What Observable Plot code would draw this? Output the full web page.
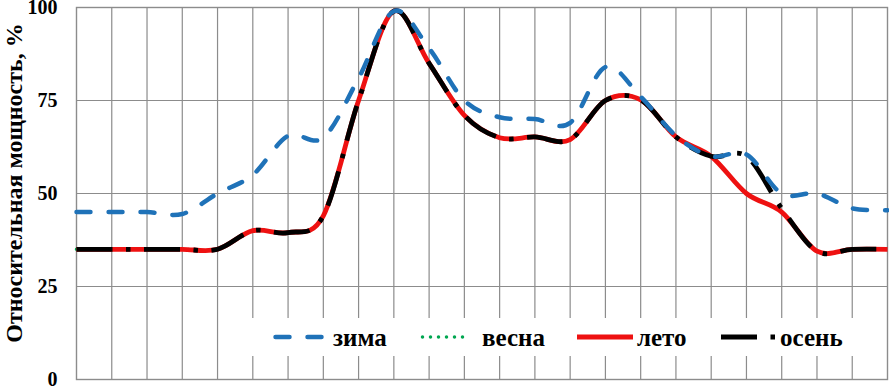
<!DOCTYPE html>
<html>
<head>
<meta charset="utf-8">
<script src="https://cdn.jsdelivr.net/npm/d3@7"></script>
<script src="https://cdn.jsdelivr.net/npm/@observablehq/plot@0.6"></script>
<style>
  html, body { margin: 0; padding: 0; background: #fff; }
  #chart { width: 889px; height: 387px; }
  #chart svg text { font-family: "Liberation Serif", "Times New Roman", serif !important; font-weight: bold; }
</style>
</head>
<body>
<div id="chart"></div>
<script>
// ---- data ----
const hours = [0, 1, 2, 3, 4, 5, 6, 7, 8, 9, 10, 11, 12, 13, 14, 15, 16, 17, 18, 19, 20, 21, 22, 23];
const yTicks = [0, 25, 50, 75, 100];
const seriesNames = ["зима", "весна", "лето", "осень"];
const winter = [45, 45, 45, 44.5, 50, 55, 65.5, 65, 81, 99, 89, 75, 70.5, 70, 69, 84, 76, 65.5, 60, 60.5, 50, 50, 46, 45.5];
const spring = [35, 35, 35, 35, 35, 40, 39.5, 44, 75, 99, 85, 71, 65, 65.2, 64.5, 75, 75.2, 65.2, 60, 50, 45, 34.5, 35, 35];
const summer = [35, 35, 35, 35, 35, 40, 39.5, 44, 75, 99, 85, 71, 65, 65.2, 64.5, 75, 75.2, 65.2, 60, 50, 45, 34.5, 35, 35];
const autumn = [35, 35, 35, 35, 35, 40, 39.5, 44, 75, 99, 85, 71, 65, 65.2, 64.5, 75, 75.2, 65.2, 60, 60, 46, 34.5, 35, 35];
const yLabel = "Относительная мощность, %";

const valuesBySeries = [winter, spring, summer, autumn];
const rows = [];
seriesNames.forEach((s, k) => hours.forEach((h, i) => rows.push({series: s, hour: h, value: valuesBySeries[k][i]})));

const styles = {
  "зима":  {stroke: "#1f72b8", strokeWidth: 4.5, strokeDasharray: "14 18", strokeLinecap: "round"},
  "весна": {stroke: "#00a650", strokeWidth: 3.5, strokeDasharray: "0 8", strokeLinecap: "round"},
  "лето":  {stroke: "#ee1111", strokeWidth: 4.8, strokeDasharray: null, strokeLinecap: "butt"},
  "осень": {stroke: "#000000", strokeWidth: 4.8, strokeDasharray: "36 13.5 4.5 13.5", strokeLinecap: "butt"}
};
const drawOrder = ["весна", "лето", "осень", "зима"];
const gridColor = "#8c8c8c";
const font = "Liberation Serif, Times New Roman, serif";

const lineMarks = drawOrder.map(s => Plot.line(rows.filter(r => r.series === s), {
  x: "hour", y: "value", curve: "cardinal", tension: 0,
  ...styles[s]
}));

const chart = Plot.plot({
  width: 889,
  height: 387,
  marginLeft: 76,
  marginRight: 2,
  marginTop: 7,
  marginBottom: 8,
  x: {domain: [hours[0], hours[hours.length - 1]], axis: null},
  y: {domain: [yTicks[0], yTicks[yTicks.length - 1]], axis: null},
  style: {fontFamily: font, background: "#fff", color: "#000", overflow: "visible"},
  marks: [
    Plot.gridX(hours.slice(1, -1), {stroke: gridColor, strokeOpacity: 1, strokeWidth: 1.2}),
    Plot.gridY(yTicks.slice(1, -1), {stroke: gridColor, strokeOpacity: 1, strokeWidth: 1.2}),
    Plot.frame({stroke: gridColor, strokeWidth: 1.4}),
    Plot.axisY(yTicks, {tickSize: 0, tickPadding: 19, fontSize: 20, fontWeight: "bold", label: null, fill: "#000"}),
    ...lineMarks
  ]
});
document.getElementById("chart").appendChild(chart);

// ---- y-axis title and in-plot legend ----
const svg = d3.select(chart);
svg.append("text")
  .attr("transform", "translate(22,183) rotate(-90)")
  .attr("text-anchor", "middle")
  .attr("font-size", 24)
  .attr("fill", "#000")
  .text(yLabel);

const lg = svg.append("g");
lg.append("rect").attr("x", 222).attr("y", 318).attr("width", 663).attr("height", 38).attr("fill", "#fff");
const legendItems = [
  {name: seriesNames[0], x1: 275.5, x2: 322, tx: 333},
  {name: seriesNames[1], x1: 422.5, x2: 470, tx: 482},
  {name: seriesNames[2], x1: 577, x2: 633, tx: 637},
  {name: seriesNames[3], x1: 721, x2: 775, tx: 780}
];
legendItems.forEach(it => {
  const st = styles[it.name];
  lg.append("line")
    .attr("x1", it.x1).attr("x2", it.x2).attr("y1", 337).attr("y2", 337)
    .attr("stroke", st.stroke).attr("stroke-width", st.strokeWidth)
    .attr("stroke-dasharray", st.strokeDasharray)
    .attr("stroke-linecap", st.strokeLinecap);
  lg.append("text")
    .attr("x", it.tx).attr("y", 346)
    .attr("text-anchor", "start")
    .attr("font-size", 25)
    .attr("fill", "#000")
    .text(it.name);
});
</script>
</body>
</html>
